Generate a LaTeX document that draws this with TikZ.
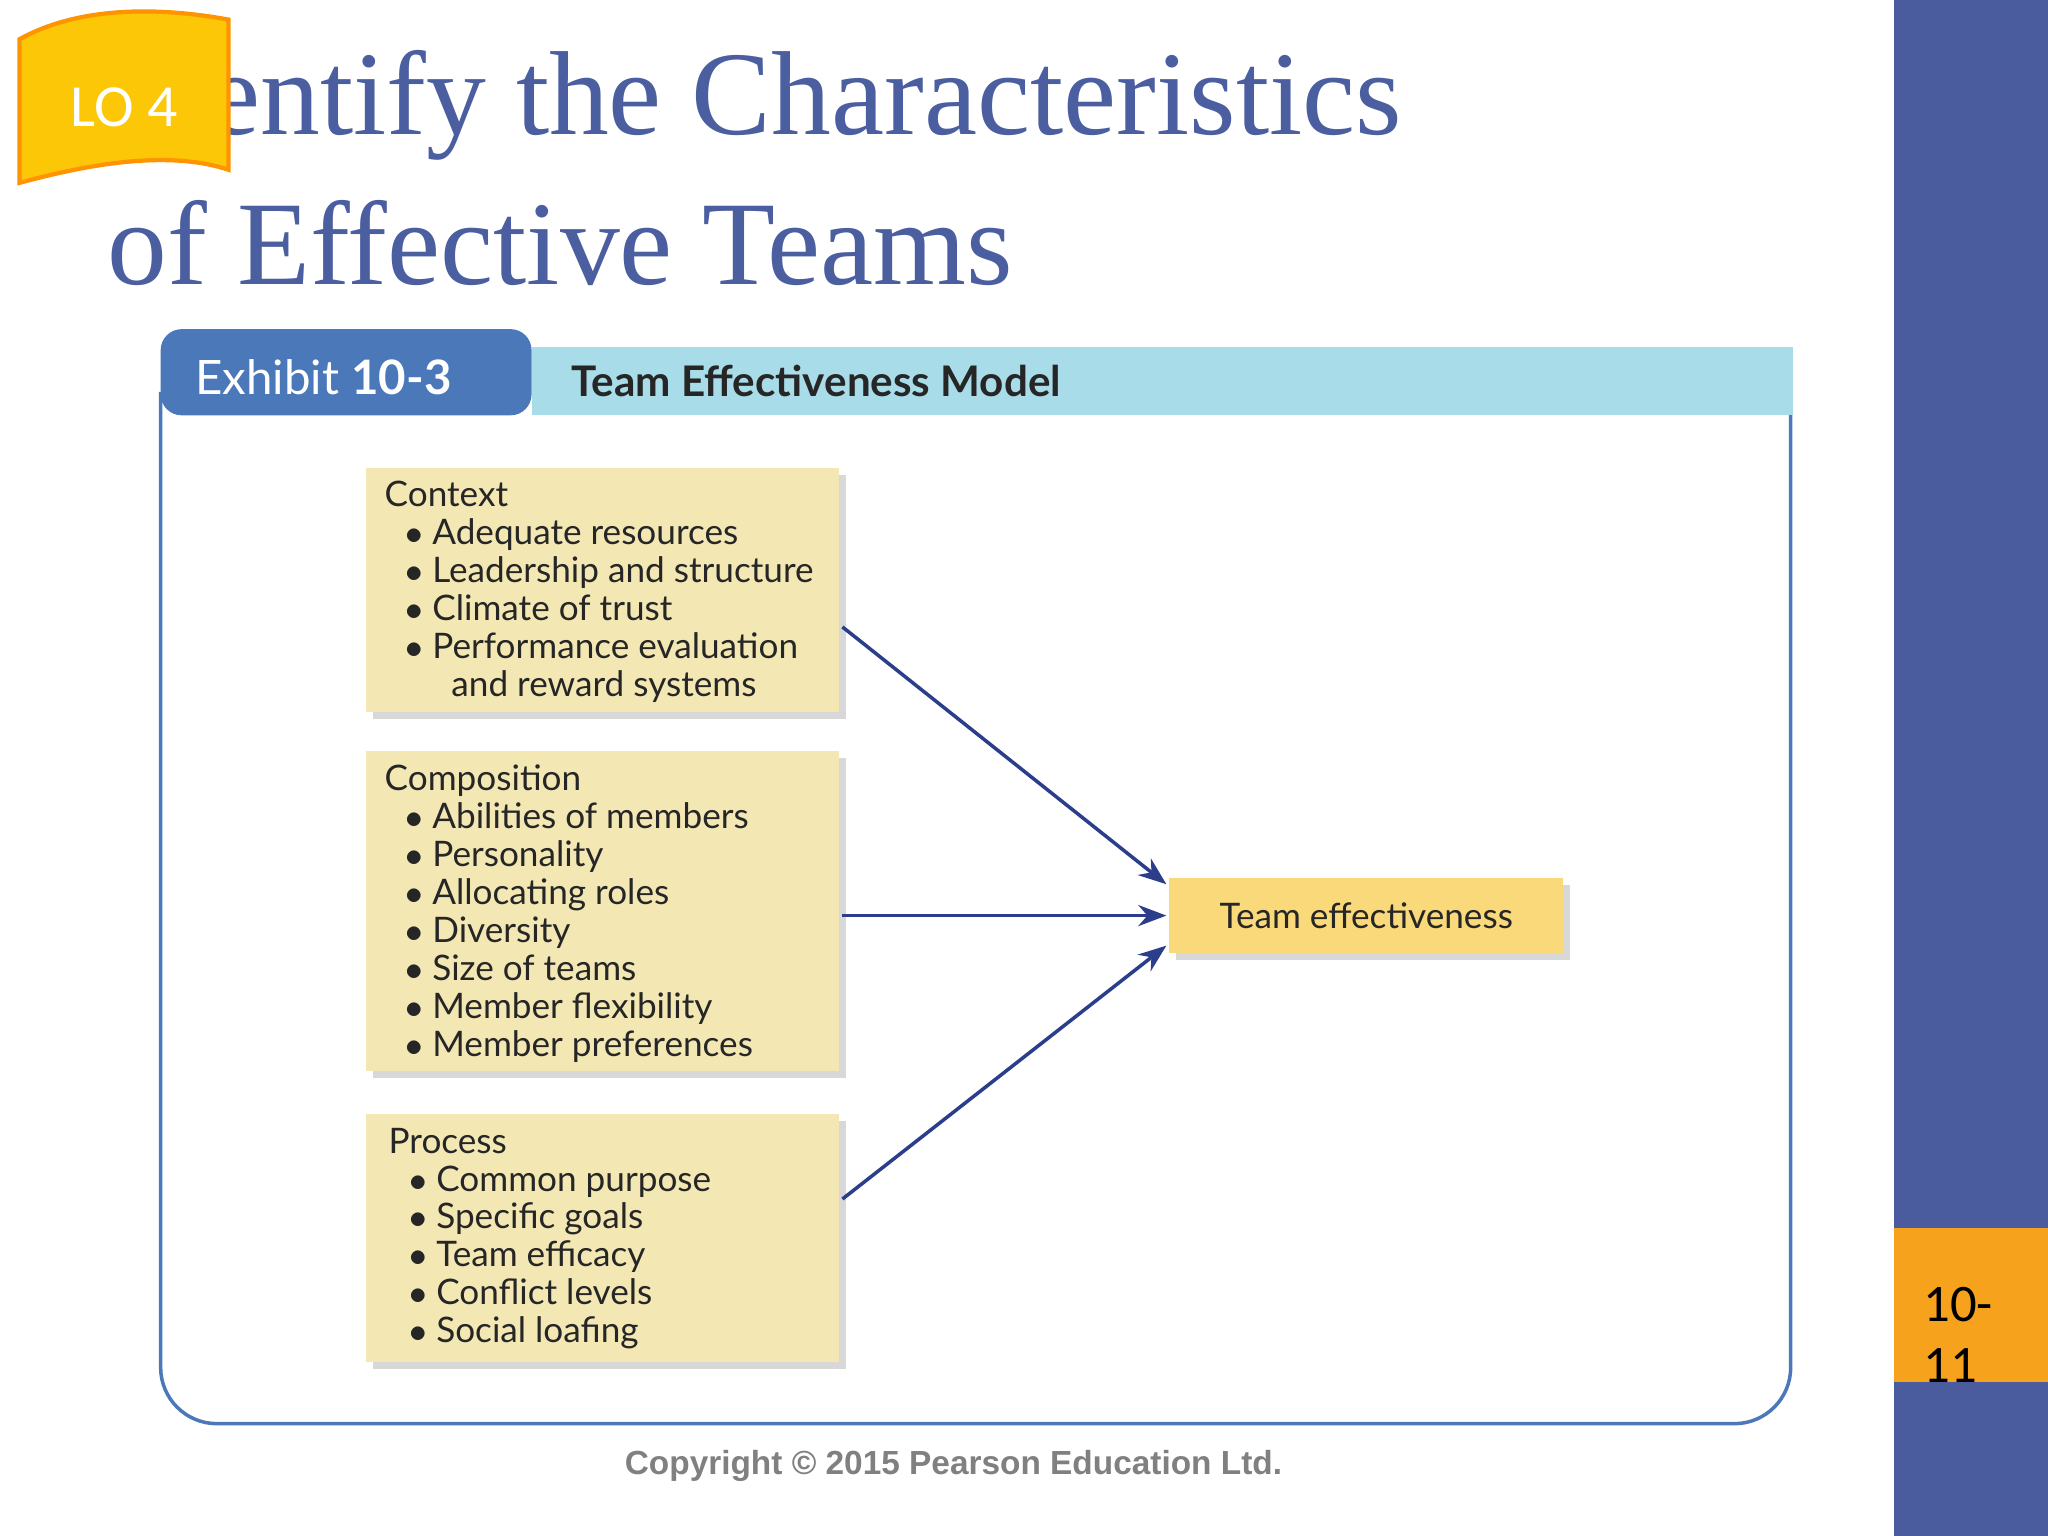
\documentclass[tikz,border=0pt]{standalone}
\usepackage{fontspec}
\setmainfont{Liberation Serif}
\setsansfont{Lato}
\newfontfamily\carlitofont{Carlito}
\newfontfamily\arialfont{Liberation Sans}
\usetikzlibrary{shadows,arrows.meta}
\definecolor{titleblue}{HTML}{4A5EA0}
\definecolor{barblue}{HTML}{4A5C9E}
\definecolor{tabblue}{HTML}{4A78B8}
\definecolor{lightband}{HTML}{A8DCE8}
\definecolor{boxfill}{HTML}{F3E8B4}
\definecolor{tefill}{HTML}{FAD97A}
\definecolor{arrowblue}{HTML}{2B3E8C}
\definecolor{pageorange}{HTML}{F7A21C}
\newcommand{\bul}{\hspace*{0.6em}$\bullet$\ }
\tikzset{
  ibox/.style={fill=boxfill,drop shadow={shadow xshift=2pt,shadow yshift=-2pt,opacity=0.3},draw=none},
  itext/.style={font=\sffamily\fontsize{10}{10.8}\selectfont,text=black!85,anchor=north west,align=left,inner sep=0},
  arr/.style={draw=arrowblue,line width=1pt,-{Stealth[length=8pt,width=6pt]}}
}
\begin{document}
\begin{tikzpicture}[x=0.013061cm,y=-0.013061cm]
\useasboundingbox (0,0) rectangle (1568,1176);
\fill[white] (0,0) rectangle (1568,1176);
\fill[barblue] (1450,0) rectangle (1568,1176);
\fill[pageorange] (1450,940) rectangle (1568,1058);
\node[anchor=north west,font=\carlitofont\fontsize{15}{17.5}\selectfont,align=left,inner sep=0] (pg) at (1472,985) {10-\\11};
% title
\node[anchor=base west,font=\fontsize{34}{36}\selectfont,text=titleblue,inner sep=0] (t1) at (82,103) {Identify the Characteristics};
\node[anchor=base west,font=\fontsize{34}{36}\selectfont,text=titleblue,inner sep=0] (t2) at (82,218) {of Effective Teams};
% LO badge
\draw[fill=yellow!60!orange,draw=orange!85!yellow,line width=1.2pt]
  (15,30) .. controls (60,5) and (120,5) .. (175,15) -- (175,130)
  .. controls (130,115) and (70,125) .. (15,140) -- cycle;
\node[font=\carlitofont\fontsize{17}{20}\selectfont,text=white] (lo) at (95,82) {LO 4};
% exhibit frame
\draw[draw=tabblue,line width=1pt,rounded corners=16pt] (123,300) -- (123,1090) -- (1371,1090) -- (1371,300);
\fill[lightband] (407,266) rectangle (1373,318);
\fill[tabblue,rounded corners=6pt] (123,318) -- (123,252) -- (407,252) -- (407,318) -- cycle;
\node[anchor=west,font=\sffamily\fontsize{13.5}{16}\selectfont,text=white,inner sep=0] (ex) at (149,289) {Exhibit \textbf{10-3}};
\node[anchor=west,font=\sffamily\fontsize{12}{14}\selectfont,text=black!85,inner sep=0] (tm) at (437,292) {\textbf{Team Effectiveness Model}};
% boxes
\fill[ibox] (280,358) rectangle (642,545);
\node[itext] (ctx) at (294,368) {Context\\
\bul Adequate resources\\
\bul Leadership and structure\\
\bul Climate of trust\\
\bul Performance evaluation\\
\hspace*{1.9em}and reward systems};
\fill[ibox] (280,575) rectangle (642,820);
\node[itext] (cmp) at (294,585) {Composition\\
\bul Abilities of members\\
\bul Personality\\
\bul Allocating roles\\
\bul Diversity\\
\bul Size of teams\\
\bul Member flexibility\\
\bul Member preferences};
\fill[ibox] (280,853) rectangle (642,1043);
\node[itext] (prc) at (297,863) {Process\\
\bul Common purpose\\
\bul Specific goals\\
\bul Team efficacy\\
\bul Conflict levels\\
\bul Social loafing};
\fill[fill=tefill,drop shadow={shadow xshift=2pt,shadow yshift=-2pt,opacity=0.3}] (895,672) rectangle (1197,730);
\node[font=\sffamily\fontsize{10}{12}\selectfont,text=black!85] (te) at (1046,701) {Team effectiveness};
\coordinate (a1) at (645,480); \coordinate (b1) at (893,677);
\coordinate (a2) at (645,701); \coordinate (b2) at (893,701);
\coordinate (a3) at (645,918); \coordinate (b3) at (893,724);
\draw[arr] (a1) -- (b1);
\draw[arr] (a2) -- (b2);
\draw[arr] (a3) -- (b3);
\node[font=\arialfont\bfseries\fontsize{9.5}{11}\selectfont,text=gray] (cp) at (730,1122) {Copyright © 2015 Pearson Education Ltd.};
\end{tikzpicture}
\end{document}
